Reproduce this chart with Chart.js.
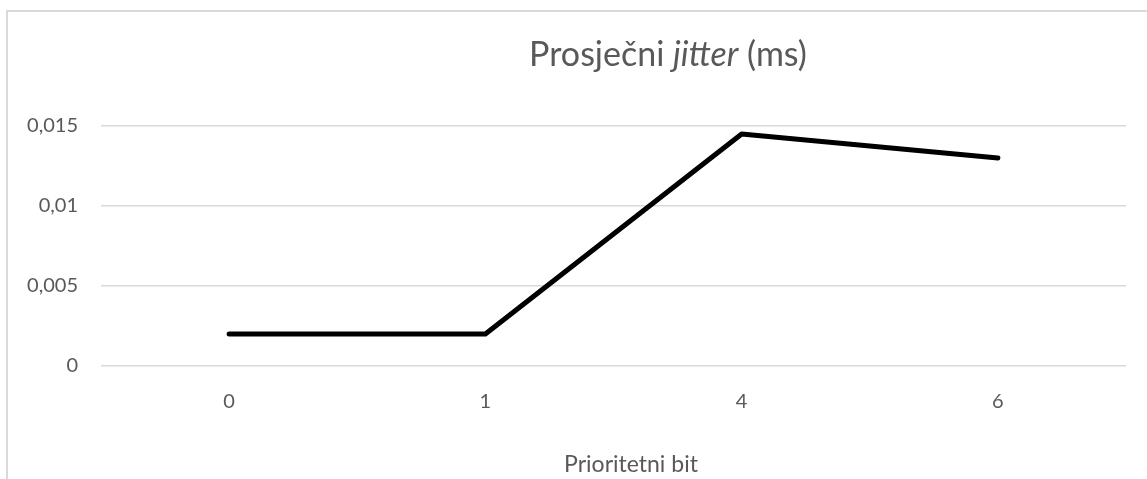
<!DOCTYPE html>
<html>
<head>
<meta charset="utf-8">
<script src="https://cdn.jsdelivr.net/npm/chart.js@4.4.0/dist/chart.umd.min.js"></script>
<style>
  html, body { margin: 0; padding: 0; background: #fff; overflow: hidden; }
  #frame { position: absolute; left: 6px; top: 10px; width: 1400px; height: 700px; border: 2px solid #d9d9d9; }
  #wrap { position: absolute; left: 0; top: 0; width: 1147px; height: 479px; }
</style>
</head>
<body>
<div id="frame"></div>
<div id="wrap"><canvas id="jitterChart"></canvas></div>
<script>
/* podaci */
const categories  = ['0', '1', '4', '6'];
const jitterMs    = [0.002, 0.002, 0.0145, 0.013];
const yTickLabels = ['0', '0,005', '0,01', '0,015'];

const textColor = '#595959';
const fontFam   = 'Lato, "Open Sans", sans-serif';

/* naslov s kurzivom za "jitter" + naslov x osi */
const titles = {
  id: 'titles',
  afterDraw(chart) {
    const c = chart.ctx;
    c.save();
    c.fillStyle = textColor;
    c.textBaseline = 'alphabetic';
    const parts = [
      { t: 'Prosječni ', f: '34px ' + fontFam },
      { t: 'jitter', f: 'italic 34px ' + fontFam },
      { t: ' (ms)', f: '34px ' + fontFam }
    ];
    let w = 0;
    parts.forEach(p => { c.font = p.f; p.w = c.measureText(p.t).width; w += p.w; });
    let x = 668 - w / 2;
    parts.forEach(p => { c.font = p.f; c.textAlign = 'left'; c.fillText(p.t, x, 66); x += p.w; });

    c.font = '23px ' + fontFam;
    c.textAlign = 'center';
    c.fillText('Prioritetni bit', 631, 472);
    c.restore();
  }
};

new Chart(document.getElementById('jitterChart'), {
  type: 'line',
  data: {
    labels: categories,
    datasets: [{
      label: 'Prosječni jitter',
      data: jitterMs,
      borderColor: '#000',
      borderWidth: 5,
      borderCapStyle: 'round',
      borderJoinStyle: 'round',
      pointRadius: 0,
      tension: 0,
      fill: false
    }]
  },
  options: {
    responsive: true,
    maintainAspectRatio: false,
    animation: false,
    layout: { padding: { top: 126, right: 21, left: 0, bottom: 0 } },
    plugins: { legend: { display: false }, title: { display: false }, tooltip: { enabled: false } },
    scales: {
      x: {
        offset: true,
        grid: { display: false },
        border: { display: false },
        ticks: { color: textColor, font: { family: fontFam, size: 20 }, padding: 16 },
        afterFit: s => { s.height = 113; }
      },
      y: {
        min: 0,
        max: 0.015,
        grid: { color: '#d9d9d9', lineWidth: 1.5, drawTicks: false },
        border: { display: false },
        ticks: {
          stepSize: 0.005,
          color: textColor,
          font: { family: fontFam, size: 20 },
          padding: 23,
          callback: (v, i) => yTickLabels[i]
        },
        afterFit: s => { s.width = 101; }
      }
    }
  },
  plugins: [titles]
});
</script>
</body>
</html>
